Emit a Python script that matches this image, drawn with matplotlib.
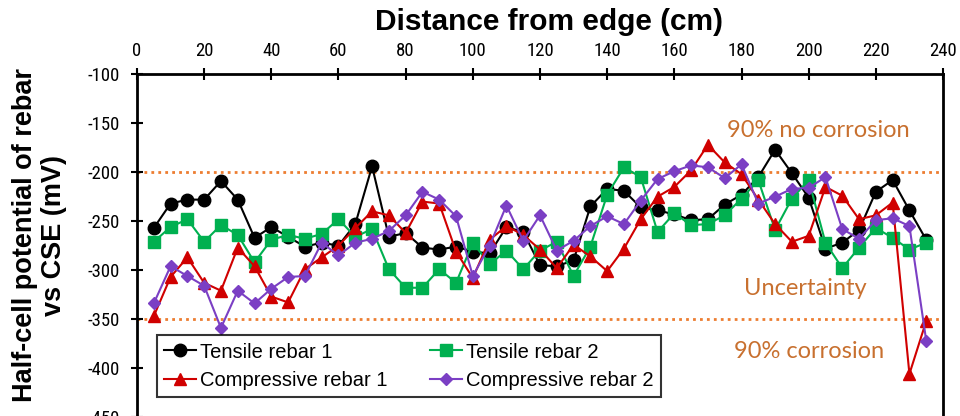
import matplotlib.pyplot as plt
from matplotlib import font_manager

# distance along the slab (cm)
distance = [5, 10, 15, 20, 25, 30, 35, 40, 45, 50, 55, 60, 65, 70, 75, 80, 85, 90, 95, 100,
            105, 110, 115, 120, 125, 130, 135, 140, 145, 150, 155, 160, 165, 170, 175, 180,
            185, 190, 195, 200, 205, 210, 215, 220, 225, 230, 235]

tensile_1 = [-257, -232, -228, -228, -209, -228, -267, -256, -266, -276, -272, -275, -253, -194,
             -266, -262, -277, -279, -276, -281, -283, -256, -261, -295, -296, -290, -235, -217,
             -219, -236, -239, -243, -249, -248, -233, -223, -205, -177, -201, -226, -278, -272,
             -259, -220, -208, -239, -269]
tensile_2 = [-271, -256, -248, -271, -254, -264, -292, -269, -264, -268, -263, -248, -266, -258,
             -299, -318, -318, -299, -313, -272, -294, -280, -299, -280, -271, -306, -276, -223,
             -195, -205, -261, -242, -254, -253, -244, -227, -208, -259, -227, -208, -272, -298,
             -277, -257, -267, -279, -272]
compressive_1 = [-347, -307, -287, -313, -321, -277, -296, -327, -333, -299, -287, -275, -257, -240,
                 -244, -262, -230, -232, -281, -308, -269, -255, -264, -279, -298, -274, -286, -301,
                 -278, -248, -225, -215, -198, -172, -190, -202, -228, -253, -271, -265, -215, -224,
                 -248, -244, -231, -406, -352]
compressive_2 = [-334, -296, -306, -316, -359, -321, -334, -319, -307, -306, -272, -285, -272, -268,
                 -260, -244, -220, -228, -245, -306, -275, -234, -270, -244, -280, -270, -255, -245,
                 -253, -229, -207, -199, -193, -195, -206, -192, -232, -225, -217, -216, -205, -258,
                 -268, -249, -247, -255, -372]

# thresholds (mV vs CSE)
no_corrosion_limit = -200
corrosion_limit = -350

# look for a narrow sans for the tick labels
installed = {f.name for f in font_manager.fontManager.ttflist}
narrow = 'Liberation Sans'
for cand in ['Liberation Sans Narrow', 'Arial Narrow', 'Roboto Condensed', 'Open Sans Condensed']:
    if cand in installed:
        narrow = cand
        break
narrow_stretch = 'normal' if narrow != 'Liberation Sans' else 'condensed'

plt.rcParams['font.family'] = ['Liberation Sans', 'DejaVu Sans']
plt.rcParams['axes.unicode_minus'] = False

fig = plt.figure(figsize=(9.6, 4.16), dpi=100)
ax = fig.add_axes([0.1427, -0.0024, 0.8396, 0.8238])

orange = '#ED7D31'
ax.axhline(no_corrosion_limit, color=orange, ls=(0, (1, 1.5)), lw=2, zorder=1)
ax.axhline(corrosion_limit, color=orange, ls=(0, (1, 1.5)), lw=2, zorder=1)

l1, = ax.plot(distance, tensile_1, '-o', color='black', lw=1.5, ms=9, label='Tensile rebar 1', zorder=3)
l2, = ax.plot(distance, tensile_2, '-s', color='#00B050', lw=1.5, ms=8.5, label='Tensile rebar 2', zorder=3)
l3, = ax.plot(distance, compressive_1, '-^', color='#D00000', lw=1.5, ms=9, label='Compressive rebar 1', zorder=3)
l4, = ax.plot(distance, compressive_2, '-D', color='#7B3FC4', lw=1.5, ms=6.5, label='Compressive rebar 2', zorder=3)

note_color = '#C8702F'
ax.text(203, -157, '90% no corrosion', color=note_color, fontsize=17, family='Lato',
        ha='center', va='center')
ax.text(199, -319, 'Uncertainty', color=note_color, fontsize=17, family='Lato',
        ha='center', va='center')
ax.text(200, -383, '90% corrosion', color=note_color, fontsize=17, family='Lato',
        ha='center', va='center')

ax.set_xlim(0, 240)
ax.set_ylim(-450, -100)
ax.set_xticks(range(0, 241, 20))
ax.set_yticks(range(-450, -99, 50))
ax.xaxis.tick_top()
ax.xaxis.set_label_position('top')
ax.tick_params(axis='both', direction='inout', length=8, width=1.5, labelsize=13.5)
ax.tick_params(axis='y', pad=8)
ax.tick_params(axis='x', pad=6)
for lab in ax.get_xticklabels() + ax.get_yticklabels():
    lab.set_family(narrow)
    lab.set_stretch(narrow_stretch)
for side in ['top', 'left', 'right']:
    ax.spines[side].set_linewidth(2)
ax.spines['bottom'].set_visible(False)

ax.set_xlabel('Distance from edge (cm)', fontsize=21.5, fontweight='bold')
ax.xaxis.set_label_coords(0.511, 1.13)
ax.set_ylabel('Half-cell potential of rebar\nvs CSE (mV)', fontsize=19.5, fontweight='bold',
              linespacing=1.15)
ax.yaxis.set_label_coords(-0.087, 0.53)

leg = ax.legend(handles=[l1, l3, l2, l4], ncol=2, loc='lower left', bbox_to_anchor=(0.012, 0.03),
                fontsize=14.5, frameon=True, fancybox=False, edgecolor='black', handlelength=1.6,
                handletextpad=0.2, columnspacing=2.1, borderpad=0.35, labelspacing=0.45)
leg.get_frame().set_linewidth(1.5)

fig.savefig('out.png', dpi=100)
